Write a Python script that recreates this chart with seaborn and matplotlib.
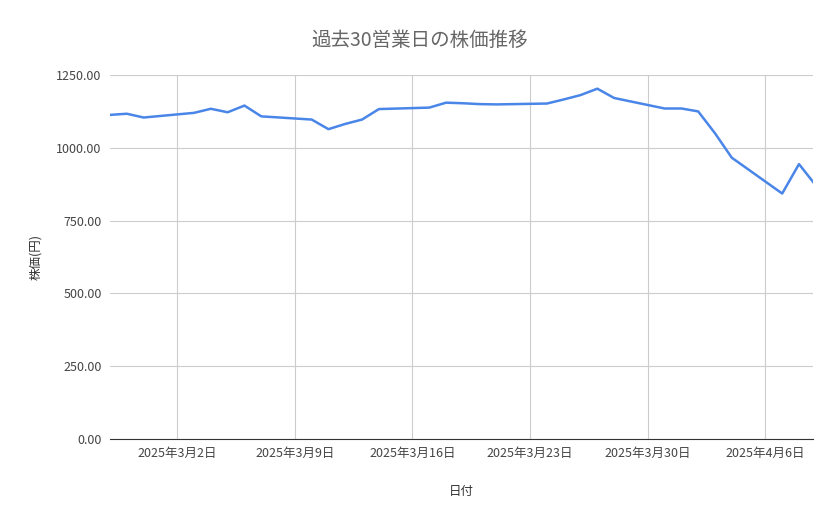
import pandas as pd
import numpy as np
import matplotlib
matplotlib.use("Agg")
import matplotlib.pyplot as plt
import matplotlib.dates as mdates
import seaborn as sns

dates = ["2025-02-26", "2025-02-27", "2025-02-28", "2025-03-03", "2025-03-04", "2025-03-05",
         "2025-03-06", "2025-03-07", "2025-03-10", "2025-03-11", "2025-03-12", "2025-03-13",
         "2025-03-14", "2025-03-17", "2025-03-18", "2025-03-19", "2025-03-20", "2025-03-21",
         "2025-03-24", "2025-03-25", "2025-03-26", "2025-03-27", "2025-03-28", "2025-03-31",
         "2025-04-01", "2025-04-02", "2025-04-03", "2025-04-04", "2025-04-07", "2025-04-08",
         "2025-04-09"]
prices = [1113, 1117, 1104, 1120, 1134, 1122, 1145, 1108, 1097, 1064, 1082, 1097,
          1133, 1138, 1155, 1153, 1150, 1149, 1152, 1166, 1181, 1203, 1171, 1135,
          1135, 1125, 1050, 966, 843, 944, 871]
tick_dates = ["2025-03-02", "2025-03-09", "2025-03-16", "2025-03-23", "2025-03-30", "2025-04-06"]
y_ticks = [0, 250, 500, 750, 1000, 1250]

df = pd.DataFrame({"date": pd.to_datetime(dates), "price": prices})

sns.set_style("white")
plt.rcParams['font.family'] = ['Noto Sans CJK JP', 'DejaVu Sans']

fig = plt.figure(figsize=(8.39, 5.19), dpi=100)
ax = fig.add_axes([110/839, 1-439/519, (813-110)/839, (439-75)/519])
sns.lineplot(data=df, x="date", y="price", ax=ax, color="#4a86e8", linewidth=1.8)

ax.set_xlim(pd.Timestamp("2025-02-26"), pd.Timestamp("2025-04-08 20:00"))
ax.set_ylim(0, 1250)
ax.set_yticks(y_ticks)
ax.set_yticklabels([f"{v:.2f}" for v in y_ticks])
tk = pd.to_datetime(tick_dates)
ax.set_xticks(tk)
ax.set_xticklabels([f"{d.year}年{d.month}月{d.day}日" for d in tk])
ax.grid(True, color="#cccccc", linewidth=0.8)
for s in ["top", "right", "left"]:
    ax.spines[s].set_visible(False)
ax.spines["bottom"].set_color("#333333")
ax.tick_params(axis="both", length=0, labelsize=9, colors="#444444", pad=6)

ax.set_xlabel("日付", fontsize=9, color="#333333", labelpad=18)
ax.set_ylabel("株価(円)", fontsize=9, color="#333333", labelpad=10)
fig.suptitle("過去30営業日の株価推移", y=1-40/519, va="center", fontsize=14, color="#666666")

fig.savefig("out.png", dpi=100)
